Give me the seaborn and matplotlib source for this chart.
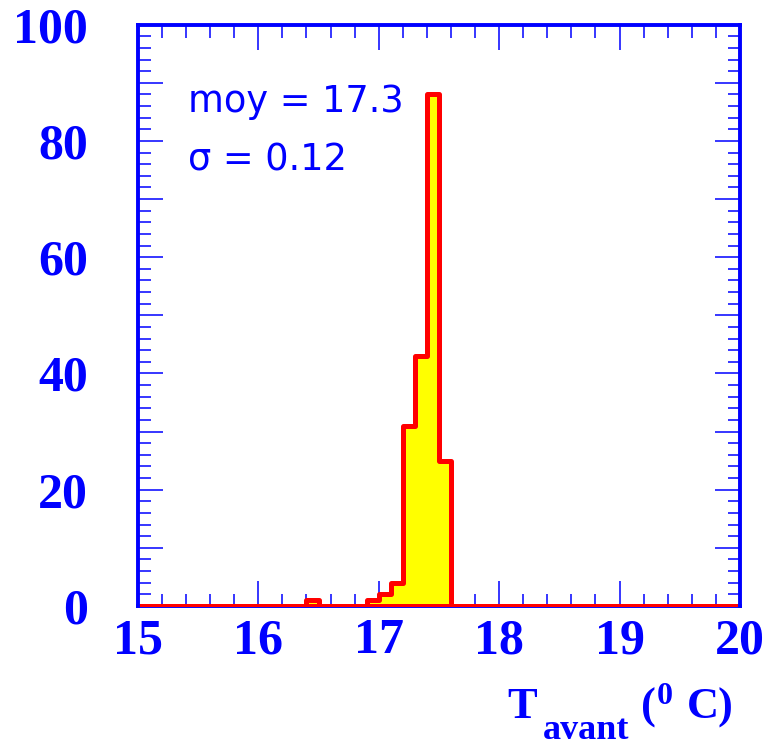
#!/usr/bin/env python3
# Histogram of T_avant, ROOT-like look (blue frame, red/yellow step fill)

import numpy as np
import pandas as pd
import seaborn as sns
import matplotlib.pyplot as plt
from matplotlib.ticker import MultipleLocator, FuncFormatter

# -----------------------------------------
# Data (bins of 0.1 degC)
# -----------------------------------------
bin_low = [16.4, 16.9, 17.0, 17.1, 17.2, 17.3, 17.4, 17.5]
counts = [1, 1, 2, 4, 31, 43, 88, 25]
x_range = (15.0, 20.0)
n_bins = 50
mean_label = "moy = 17.3"
sigma_label = "\u03c3 = 0.12"

BLUE = "#0000ff"
RED = "#ff0000"
YELLOW = "#ffff00"

df = pd.DataFrame({"t": np.array(bin_low) + 0.05, "n": counts})

# -----------------------------------------
# Style
# -----------------------------------------
sns.set_style("ticks")
plt.rcParams["font.family"] = ["Liberation Serif", "DejaVu Serif"]

fig = plt.figure(figsize=(7.66, 7.49), dpi=100)
ax = fig.add_axes([0.180, 0.191, 0.786, 0.776])

# bins given as count + range (array bins + weights trips seaborn 0.13)
sns.histplot(
    data=df,
    x="t",
    weights="n",
    bins=n_bins,
    binrange=x_range,
    element="step",
    fill=True,
    color=YELLOW,
    edgecolor=RED,
    linewidth=3.6,
    alpha=1,
    ax=ax,
)

ax.set_xlim(*x_range)
ax.set_ylim(0, 100)
ax.set_xlabel("")
ax.set_ylabel("")

# frame
for sp in ax.spines.values():
    sp.set_color(BLUE)
    sp.set_linewidth(2.8)
    sp.set_visible(True)
# red outline along zero sits on top of the bottom frame line
ax.spines["bottom"].set_zorder(0.5)

# ticks
ax.xaxis.set_major_locator(MultipleLocator(1))
ax.xaxis.set_minor_locator(MultipleLocator(0.2))
ax.yaxis.set_major_locator(MultipleLocator(10))
ax.yaxis.set_minor_locator(MultipleLocator(2))
ax.yaxis.set_major_formatter(
    FuncFormatter(lambda v, p: f"{v:.0f}" if round(v) % 20 == 0 else "")
)
ax.xaxis.set_major_formatter(FuncFormatter(lambda v, p: f"{v:.0f}"))

ax.tick_params(which="both", direction="in", top=True, right=True,
               color=BLUE, width=1.1)
ax.tick_params(which="major", length=18)
ax.tick_params(which="minor", length=9)
ax.tick_params(axis="x", which="major", pad=9)
ax.tick_params(axis="y", which="major", pad=36)

for lab in ax.get_xticklabels() + ax.get_yticklabels():
    lab.set_fontsize(36)
    lab.set_fontweight("bold")
    lab.set_color(BLUE)
    lab.set_family("Liberation Serif")

# stats text
ax.text(0.083, 0.849, mean_label, transform=ax.transAxes, color=BLUE,
        fontsize=26.5, family="DejaVu Sans", va="baseline", ha="left")
ax.text(0.083, 0.749, sigma_label, transform=ax.transAxes, color=BLUE,
        fontsize=26.5, family="DejaVu Sans", va="baseline", ha="left")

# x-axis title, built piece by piece: T_avant (^0 C)
title_kw = dict(transform=ax.transAxes, color=BLUE, fontweight="bold",
                family="Liberation Serif", va="baseline", ha="left")
ax.text(0.614, -0.193, "T", fontsize=32, **title_kw)
ax.text(0.673, -0.229, "avant", fontsize=26, **title_kw)
ax.text(0.835, -0.193, "(", fontsize=32, **title_kw)
ax.text(0.862, -0.168, "0", fontsize=23, **title_kw)
ax.text(0.912, -0.193, "C)", fontsize=32, **title_kw)

fig.savefig("out.png", dpi=100)
plt.close(fig)
